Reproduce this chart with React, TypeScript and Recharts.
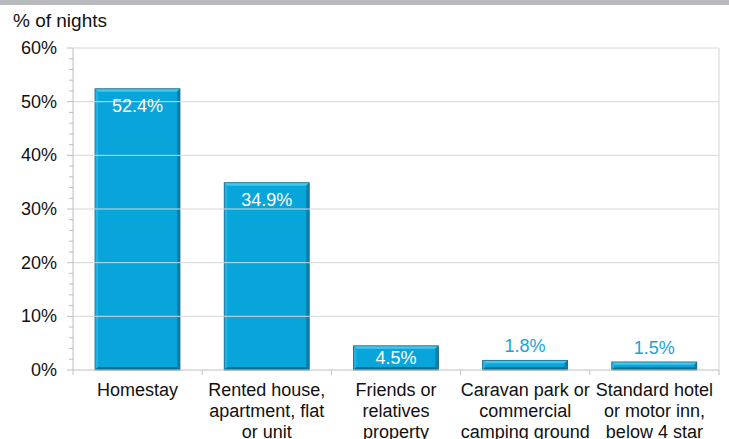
import {
  BarChart,
  Bar,
  XAxis,
  YAxis,
  CartesianGrid,
  ReferenceLine,
  LabelList,
} from "recharts";

const categories = [
  "Homestay",
  "Rented house, apartment, flat or unit",
  "Friends or relatives property",
  "Caravan park or commercial camping ground",
  "Standard hotel or motor inn, below 4 star",
];
const tickLines = [
  ["Homestay"],
  ["Rented house,", "apartment, flat", "or unit"],
  ["Friends or", "relatives", "property"],
  ["Caravan park or", "commercial", "camping ground"],
  ["Standard hotel", "or motor inn,", "below 4 star"],
];
const nights = [52.4, 34.9, 4.5, 1.8, 1.5];
const yTicks = [0, 2, 4, 6, 8, 10, 12, 14, 16, 18, 20, 22, 24, 26, 28, 30, 32, 34, 36, 38, 40, 42, 44, 46, 48, 50, 52, 54, 56, 58, 60];
const gridValues = [10, 20, 30, 40, 50, 60];

const data = categories.map((name, i) => ({ name, value: nights[i], lines: tickLines[i] }));

const FONT = "'Liberation Sans', Arial, sans-serif";
const AXIS = "#bfbfbf";
const GRID = "#d6d6d6";
const BLUE = "#1aa3da";

const BevelBar = (props: any) => {
  const { x, y, width, height } = props;
  if (!height || height <= 0) return null;
  const b = Math.min(3, height / 3);
  return (
    <g>
      <rect x={x} y={y} width={width} height={height} fill="#08a5db" />
      <polygon points={`${x},${y} ${x + width},${y} ${x + width - b},${y + b} ${x + b},${y + b}`} fill="#45c6ef" />
      <polygon points={`${x},${y} ${x + b},${y + b} ${x + b},${y + height - b} ${x},${y + height}`} fill="#22b2e4" />
      <polygon points={`${x + width},${y} ${x + width},${y + height} ${x + width - b},${y + height - b} ${x + width - b},${y + b}`} fill="#0a80aa" />
      <polygon points={`${x},${y + height} ${x + width},${y + height} ${x + width - b},${y + height - b} ${x + b},${y + height - b}`} fill="#0b6e92" />
      <rect x={x} y={y} width={width} height={height} fill="none" stroke="#1d6782" strokeWidth={0.8} />
    </g>
  );
};

const ValueLabel = (props: any) => {
  const { x, y, width, height, value } = props;
  const cx = x + width / 2;
  let ty: number;
  let fill = "#ffffff";
  if (height > 40) ty = y + 17;
  else if (height > 15) ty = y + height / 2;
  else {
    ty = y - 14;
    fill = BLUE;
  }
  return (
    <text x={cx} y={ty} textAnchor="middle" dominantBaseline="central" fontFamily={FONT} fontSize={18} fill={fill}>
      {`${value.toFixed(1)}%`}
    </text>
  );
};

const YTick = (props: any) => {
  const { x, y, payload } = props;
  const major = payload.value % 10 === 0;
  return (
    <g>
      <line x1={x - (major ? 6 : 4)} x2={x} y1={y} y2={y} stroke={AXIS} />
      {major && (
        <text x={x - 16} y={y} textAnchor="end" dominantBaseline="central" fontFamily={FONT} fontSize={18} fill="#111">
          {`${payload.value}%`}
        </text>
      )}
    </g>
  );
};

const band = 646 / categories.length;

const XTick = (props: any) => {
  const { x, y, payload, index } = props;
  const lines = tickLines[index] || [payload.value];
  return (
    <g>
      <line x1={x - band / 2} x2={x - band / 2} y1={y} y2={y + 5} stroke={AXIS} />
      {index === categories.length - 1 && (
        <line x1={x + band / 2} x2={x + band / 2} y1={y} y2={y + 5} stroke={AXIS} />
      )}
      {lines.map((l: string, i: number) => (
        <text key={i} x={x} y={y + 20 + i * 21} textAnchor="middle" dominantBaseline="central" fontFamily={FONT} fontSize={18} fill="#111">
          {l}
        </text>
      ))}
    </g>
  );
};

export default function App() {
  return (
    <div style={{ position: "absolute", left: 0, top: 0, width: 729, height: 439, overflow: "hidden", background: "#fff" }}>
      <div style={{ position: "absolute", left: 0, top: 0, width: 729, height: 5, background: "#b8babe" }} />
      <div style={{ position: "absolute", left: 13, top: 10, fontFamily: FONT, fontSize: 19, color: "#111" }}>% of nights</div>
      <BarChart width={729} height={439} data={data} margin={{ top: 48, right: 10, left: 0, bottom: 0 }}>
        <CartesianGrid horizontal={false} verticalPoints={[719]} stroke={GRID} />
        {gridValues.map((v) => (
          <ReferenceLine key={v} y={v} stroke={GRID} />
        ))}
        <XAxis
          dataKey="name"
          height={69}
          axisLine={{ stroke: AXIS }}
          tickLine={false}
          tick={<XTick />}
          interval={0}
          tickSize={0}
          tickMargin={0}
        />
        <YAxis
          width={73}
          domain={[0, 60]}
          ticks={yTicks}
          interval={0}
          axisLine={{ stroke: AXIS }}
          tickLine={false}
          tickSize={0}
          tickMargin={0}
          tick={<YTick />}
        />
        <Bar dataKey="value" barSize={85} shape={<BevelBar />} isAnimationActive={false}>
          <LabelList dataKey="value" content={<ValueLabel />} />
        </Bar>
      </BarChart>
    </div>
  );
}
